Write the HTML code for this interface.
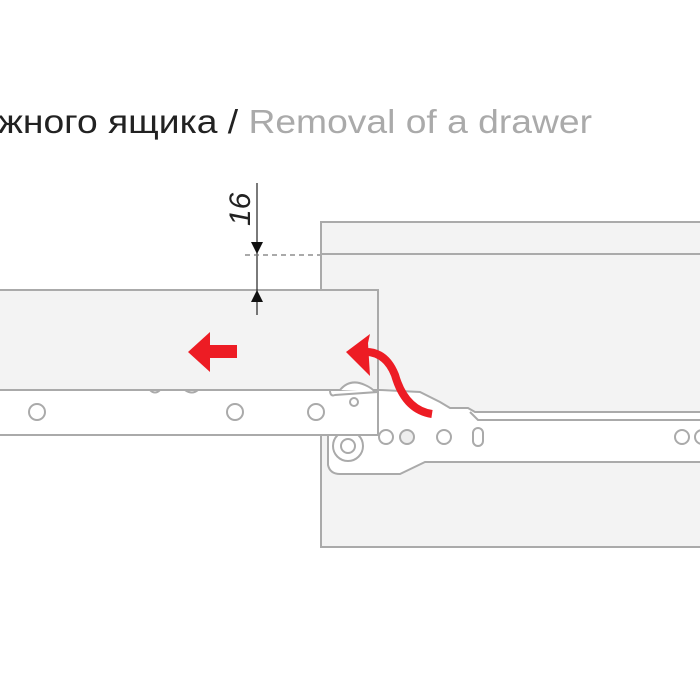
<!DOCTYPE html>
<html><head><meta charset="utf-8"><style>
body{margin:0;background:#fff;width:700px;height:700px;overflow:hidden}
svg{display:block}
</style></head><body>
<svg width="700" height="700" viewBox="0 0 700 700" xmlns="http://www.w3.org/2000/svg">
<text x="-2" y="133" font-family="Liberation Sans, sans-serif" font-size="33" fill="#222" textLength="594" lengthAdjust="spacingAndGlyphs">жного ящика / <tspan fill="#aaa">Removal of a drawer</tspan></text>
<!-- cabinet -->
<rect x="321" y="222" width="390" height="325" fill="#f3f3f3" stroke="#aaa" stroke-width="2"/>
<line x1="321" y1="254" x2="700" y2="254" stroke="#aaa" stroke-width="2"/>
<!-- cabinet rail -->
<path d="M328 390 L328 465 Q330 474 340 474 L400 474 L425 462 L710 462 L710 412 L475 412 L468 408 L450 408 L440 402 L420 392 L380 390 Z" fill="#fff" stroke="#aaa" stroke-width="2"/>
<path d="M470 412 L478 420 L710 420" fill="none" stroke="#aaa" stroke-width="2"/>
<circle cx="348" cy="446" r="15" fill="#fff" stroke="#aaa" stroke-width="2"/>
<circle cx="348" cy="446" r="7" fill="#fff" stroke="#aaa" stroke-width="2"/>
<g fill="#fff" stroke="#aaa" stroke-width="2">
<circle cx="386" cy="437" r="7"/><circle cx="407" cy="437" r="7" fill="#eee"/><circle cx="444" cy="437" r="7"/>
<rect x="473" y="428" width="10" height="18" rx="5"/>
<circle cx="682" cy="437" r="7"/><circle cx="702" cy="437" r="7"/>
</g>
<!-- drawer -->
<rect x="-2" y="290" width="380" height="100" fill="#f3f3f3" stroke="#aaa" stroke-width="2"/>
<path d="M340 390 Q350 378 365 385 Q372 388 375 392" fill="#fff" stroke="#aaa" stroke-width="2"/>
<path d="M-2 390 L150 390 Q155 395 160 390 L185 390 Q192 395 198 390 L330 390 Q330 397 335 395 L378 392 L378 435 L-2 435 Z" fill="#fff" stroke="#aaa" stroke-width="2"/>
<g fill="#fff" stroke="#aaa" stroke-width="2">
<circle cx="37" cy="412" r="8"/><circle cx="235" cy="412" r="8"/><circle cx="316" cy="412" r="8"/><circle cx="354" cy="402" r="4"/>
</g>
<!-- dimension -->
<line x1="257" y1="183" x2="257" y2="315" stroke="#222" stroke-width="1.2"/>
<line x1="245" y1="255" x2="320" y2="255" stroke="#777" stroke-width="1.2" stroke-dasharray="5,4"/>
<polygon points="251,242 263,242 257,254" fill="#111"/>
<polygon points="251,302 263,302 257,290" fill="#111"/>
<text transform="translate(250,226) rotate(-90)" font-family="Liberation Sans, sans-serif" font-size="30" font-style="italic" fill="#222">16</text>
<!-- red arrows -->
<polygon points="188,352 210,332 210,345 237,345 237,358 210,358 210,372" fill="#ed1c24"/>
<polygon points="346,352 370,334 368,343 370,376" fill="#ed1c24"/>
<path d="M362 352 Q385 350 395 375 Q405 410 432 414" fill="none" stroke="#ed1c24" stroke-width="8"/>
</svg>
</body></html>
